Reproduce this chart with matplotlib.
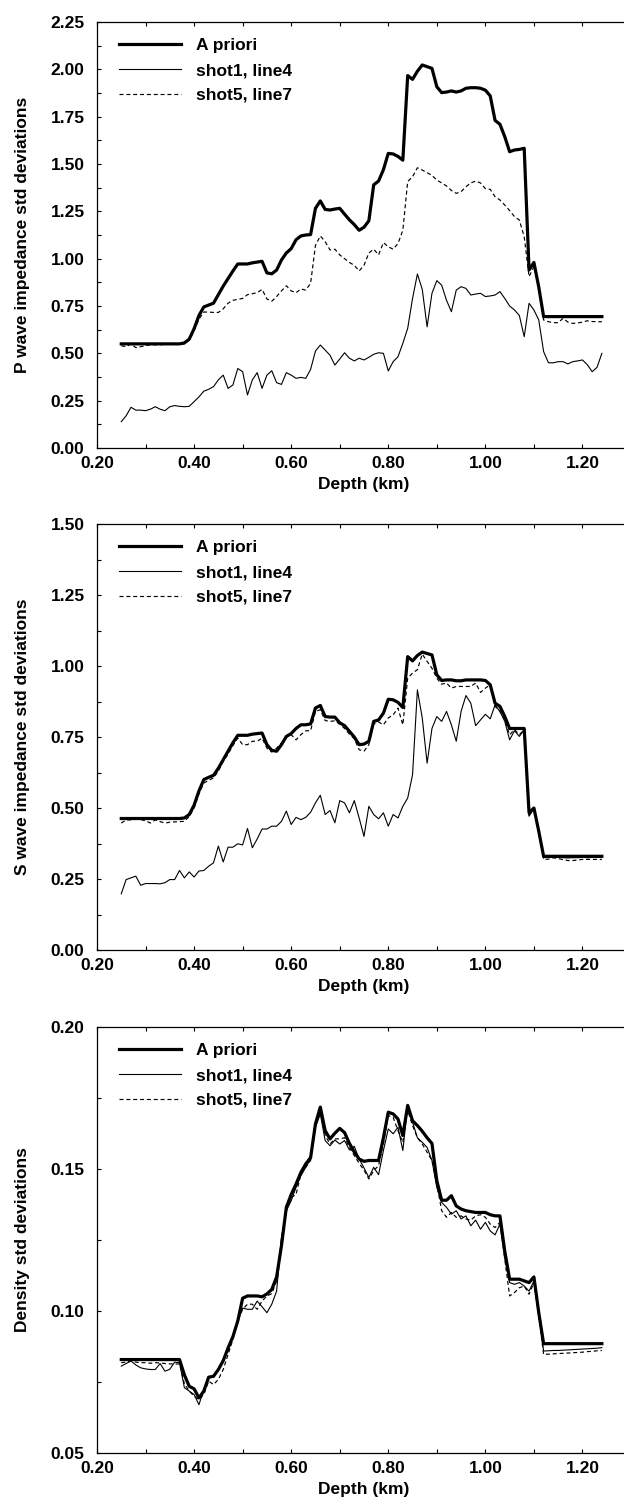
import numpy as np
import matplotlib
matplotlib.use("Agg")
import matplotlib.pyplot as plt
from matplotlib.ticker import MultipleLocator, FormatStrFormatter

plt.rcParams['font.family'] = ['Liberation Sans', 'DejaVu Sans']
plt.rcParams['font.weight'] = 'bold'

# Depth samples (km)
depth = np.round(np.arange(25, 125) / 100.0, 2)

series_labels = ["A priori", "shot1, line4", "shot5, line7"]

# P wave impedance standard deviations
p_apriori = [0.55] * 13 + [
    0.555, 0.575, 0.63, 0.70, 0.745, 0.755, 0.765, 0.81, 0.855, 0.895,
    0.935, 0.972, 0.972, 0.972, 0.978, 0.982, 0.986, 0.925, 0.92, 0.94,
    0.993, 1.03, 1.053, 1.10, 1.12, 1.125, 1.127, 1.266, 1.305, 1.26,
    1.257, 1.262, 1.266, 1.235, 1.205, 1.18, 1.15, 1.166, 1.20, 1.39,
    1.41, 1.47, 1.556, 1.553, 1.54, 1.52, 1.967, 1.947, 1.99, 2.023,
    2.014, 2.005, 1.908, 1.877, 1.88, 1.886, 1.88, 1.886, 1.90, 1.903,
    1.903, 1.90, 1.89, 1.86, 1.73, 1.71, 1.644, 1.565, 1.574, 1.577,
    1.583, 0.94, 0.98, 0.85, 0.694] + [0.694] * 12
p_shot1 = [
    0.139, 0.17, 0.215, 0.20, 0.20, 0.197, 0.205, 0.218, 0.205, 0.197,
    0.218, 0.224, 0.22, 0.218, 0.22, 0.245, 0.27, 0.30, 0.31, 0.324,
    0.36, 0.385, 0.315, 0.333, 0.42, 0.403, 0.28, 0.36, 0.398, 0.315,
    0.385, 0.408, 0.345, 0.336, 0.398, 0.385, 0.368, 0.373, 0.368, 0.415,
    0.512, 0.544, 0.517, 0.49, 0.438, 0.47, 0.503, 0.474, 0.46, 0.474,
    0.465, 0.479, 0.495, 0.503, 0.50, 0.407, 0.456, 0.482, 0.553, 0.632,
    0.79, 0.919, 0.838, 0.64, 0.817, 0.884, 0.86, 0.78, 0.72, 0.834,
    0.852, 0.843, 0.808, 0.813, 0.817, 0.80, 0.803, 0.808, 0.826, 0.79,
    0.75, 0.729, 0.70, 0.588, 0.764, 0.729, 0.676, 0.509, 0.45, 0.45,
    0.456, 0.456, 0.444, 0.456, 0.46, 0.465, 0.44, 0.403, 0.426, 0.50]
p_shot5 = [
    0.54, 0.535, 0.55, 0.53, 0.535, 0.54, 0.545, 0.545, 0.545, 0.548,
    0.548, 0.548, 0.548, 0.55, 0.57, 0.62, 0.68, 0.718, 0.718, 0.716,
    0.716, 0.735, 0.765, 0.78, 0.785, 0.79, 0.81, 0.815, 0.82, 0.838,
    0.787, 0.775, 0.80, 0.83, 0.857, 0.83, 0.82, 0.84, 0.834, 0.87,
    1.07, 1.12, 1.09, 1.046, 1.05, 1.02, 1.00, 0.98, 0.965, 0.935,
    0.965, 1.03, 1.05, 1.02, 1.085, 1.063, 1.05, 1.08, 1.15, 1.407,
    1.433, 1.48, 1.468, 1.454, 1.44, 1.415, 1.40, 1.384, 1.36, 1.345,
    1.354, 1.38, 1.40, 1.41, 1.40, 1.37, 1.366, 1.327, 1.31, 1.283,
    1.254, 1.222, 1.204, 1.116, 0.905, 0.958, 0.852, 0.676, 0.667, 0.662,
    0.662, 0.685, 0.665, 0.658, 0.66, 0.665, 0.672, 0.668, 0.667, 0.667]

# S wave impedance standard deviations
s_apriori = [0.463] * 13 + [
    0.465, 0.477, 0.51, 0.56, 0.60, 0.608, 0.615, 0.64, 0.67, 0.70,
    0.73, 0.756, 0.756, 0.756, 0.76, 0.762, 0.764, 0.723, 0.703, 0.70,
    0.723, 0.752, 0.762, 0.78, 0.793, 0.793, 0.796, 0.852, 0.861, 0.822,
    0.82, 0.82, 0.80, 0.79, 0.77, 0.75, 0.723, 0.725, 0.735, 0.805,
    0.81, 0.834, 0.883, 0.881, 0.872, 0.854, 1.033, 1.018, 1.037, 1.049,
    1.044, 1.039, 0.969, 0.949, 0.951, 0.951, 0.948, 0.948, 0.951, 0.951,
    0.951, 0.951, 0.949, 0.934, 0.869, 0.858, 0.822, 0.78, 0.78, 0.78,
    0.78, 0.483, 0.50, 0.418, 0.33] + [0.33] * 12
s_shot1 = [
    0.198, 0.248, 0.254, 0.26, 0.228, 0.234, 0.234, 0.234, 0.233, 0.237,
    0.248, 0.248, 0.28, 0.254, 0.275, 0.257, 0.278, 0.28, 0.295, 0.307,
    0.366, 0.31, 0.362, 0.362, 0.374, 0.37, 0.428, 0.36, 0.391, 0.426,
    0.426, 0.436, 0.436, 0.453, 0.489, 0.442, 0.467, 0.459, 0.467, 0.485,
    0.518, 0.545, 0.477, 0.491, 0.448, 0.526, 0.518, 0.483, 0.526, 0.465,
    0.40, 0.506, 0.477, 0.462, 0.483, 0.436, 0.477, 0.465, 0.506, 0.535,
    0.617, 0.916, 0.817, 0.658, 0.78, 0.822, 0.805, 0.84, 0.793, 0.735,
    0.84, 0.896, 0.869, 0.79, 0.81, 0.83, 0.814, 0.863, 0.84, 0.805,
    0.74, 0.772, 0.752, 0.776, 0.471, 0.50, 0.418, 0.325, 0.327, 0.325,
    0.326, 0.325, 0.324, 0.325, 0.325, 0.326, 0.325, 0.326, 0.327, 0.327]
s_shot5 = [
    0.447, 0.458, 0.458, 0.46, 0.459, 0.455, 0.447, 0.458, 0.452, 0.447,
    0.45, 0.451, 0.452, 0.453, 0.47, 0.50, 0.55, 0.588, 0.597, 0.606,
    0.63, 0.664, 0.69, 0.72, 0.746, 0.723, 0.723, 0.735, 0.735, 0.746,
    0.711, 0.697, 0.711, 0.729, 0.749, 0.758, 0.74, 0.758, 0.772, 0.772,
    0.84, 0.846, 0.808, 0.805, 0.807, 0.795, 0.78, 0.76, 0.744, 0.705,
    0.70, 0.723, 0.796, 0.803, 0.793, 0.817, 0.828, 0.852, 0.793, 0.957,
    0.975, 0.987, 1.042, 1.016, 0.992, 0.957, 0.936, 0.94, 0.922, 0.928,
    0.928, 0.928, 0.928, 0.94, 0.907, 0.922, 0.934, 0.858, 0.84, 0.81,
    0.758, 0.776, 0.758, 0.776, 0.471, 0.50, 0.412, 0.319, 0.32, 0.325,
    0.322, 0.318, 0.315, 0.315, 0.317, 0.319, 0.319, 0.319, 0.319, 0.319]

# Density standard deviations
d_apriori = [0.0829] * 13 + [
    0.0775, 0.0735, 0.0726, 0.0694, 0.0718, 0.0767, 0.077, 0.0794, 0.0825, 0.087,
    0.091, 0.0965, 0.1045, 0.1053, 0.1053, 0.1053, 0.105, 0.106, 0.1076, 0.112,
    0.123, 0.1365, 0.141, 0.1447, 0.1488, 0.1518, 0.154, 0.1659, 0.1718, 0.1635,
    0.1606, 0.1626, 0.1643, 0.1628, 0.159, 0.156, 0.1535, 0.1527, 0.153, 0.153,
    0.153, 0.161, 0.170, 0.1694, 0.1676, 0.1618, 0.1724, 0.167, 0.1653, 0.1633,
    0.161, 0.159, 0.1459, 0.139, 0.139, 0.1406, 0.137, 0.1359, 0.1353, 0.135,
    0.1347, 0.1347, 0.1347, 0.1339, 0.1335, 0.1335, 0.121, 0.1112, 0.1112, 0.1112,
    0.1106, 0.110, 0.112, 0.0994, 0.0885] + [0.0885] * 12
d_shot1 = [
    0.0806, 0.0815, 0.0824, 0.081, 0.080, 0.0796, 0.0794, 0.0794, 0.0815, 0.0788,
    0.0795, 0.082, 0.0818, 0.073, 0.0718, 0.0706, 0.067, 0.0724, 0.0765, 0.077,
    0.0794, 0.0829, 0.0859, 0.091, 0.0965, 0.101, 0.1006, 0.1006, 0.1035, 0.1015,
    0.0994, 0.1024, 0.107, 0.126, 0.1353, 0.1388, 0.1435, 0.1476, 0.1506, 0.1535,
    0.1647, 0.1694, 0.160, 0.1582, 0.1602, 0.1588, 0.160, 0.1567, 0.158, 0.1535,
    0.1504, 0.147, 0.1506, 0.148, 0.1565, 0.1641, 0.1624, 0.1647, 0.1565, 0.1724,
    0.1665, 0.161, 0.1594, 0.1576, 0.153, 0.1435, 0.1382, 0.1365, 0.1341, 0.1353,
    0.1324, 0.1335, 0.130, 0.132, 0.1288, 0.1312, 0.1282, 0.1268, 0.1306, 0.1188,
    0.110, 0.1094, 0.110, 0.1088, 0.107, 0.1106, 0.0988, 0.0859, 0.0860, 0.0861,
    0.0861, 0.0862, 0.0863, 0.0864, 0.0865, 0.0866, 0.0867, 0.0868, 0.0869, 0.0871]
d_shot5 = [
    0.0818, 0.0820, 0.0824, 0.0820, 0.0818, 0.0818, 0.0816, 0.0818, 0.0817, 0.0815,
    0.0814, 0.0813, 0.0814, 0.0744, 0.0718, 0.0700, 0.0688, 0.0706, 0.0753, 0.0741,
    0.0759, 0.0794, 0.0847, 0.090, 0.0965, 0.1006, 0.1024, 0.1024, 0.1006, 0.1035,
    0.1053, 0.1061, 0.1106, 0.1247, 0.1353, 0.140, 0.141, 0.1482, 0.1506, 0.153,
    0.1653, 0.1706, 0.1618, 0.1588, 0.1606, 0.1606, 0.161, 0.1576, 0.1547, 0.152,
    0.1496, 0.1465, 0.1494, 0.1512, 0.1588, 0.1688, 0.1682, 0.1635, 0.1594, 0.1706,
    0.1653, 0.161, 0.1588, 0.1559, 0.153, 0.1447, 0.1353, 0.133, 0.1347, 0.133,
    0.1335, 0.1324, 0.132, 0.1335, 0.1339, 0.133, 0.1306, 0.1294, 0.1312, 0.1182,
    0.1053, 0.1065, 0.1082, 0.1088, 0.1059, 0.110, 0.0982, 0.0847, 0.0848, 0.0849,
    0.0850, 0.0851, 0.0852, 0.0853, 0.0854, 0.0855, 0.0857, 0.0858, 0.0860, 0.0861]

panels = [
    dict(series=(p_apriori, p_shot1, p_shot5), ylim=(0.0, 2.25), major=0.25,
         minor=0.125, ylabel="P wave impedance std deviations"),
    dict(series=(s_apriori, s_shot1, s_shot5), ylim=(0.0, 1.5), major=0.25,
         minor=0.125, ylabel="S wave impedance std deviations"),
    dict(series=(d_apriori, d_shot1, d_shot5), ylim=(0.05, 0.20), major=0.05,
         minor=0.025, ylabel="Density std deviations"),
]

W, H = 624, 1508
fig = plt.figure(figsize=(W / 100, H / 100), dpi=100)

tops = [22, 524, 1027]
ax_h = 426
left, ax_w = 97, 534

styles = [
    dict(color="black", lw=2.3, ls="-"),
    dict(color="black", lw=0.8, ls="-"),
    dict(color="black", lw=0.85, ls=(0, (3.4, 2.4))),
]

fs = 12.5
for top, cfg in zip(tops, panels):
    ax = fig.add_axes([left / W, (H - top - ax_h) / H, ax_w / W, ax_h / H])
    for vals, lab, st in zip(cfg["series"], series_labels, styles):
        ax.plot(depth, vals, label=lab, **st)
    ax.set_xlim(0.2, 1.3)
    ax.set_ylim(*cfg["ylim"])
    ax.xaxis.set_major_locator(MultipleLocator(0.2))
    ax.xaxis.set_minor_locator(MultipleLocator(0.1))
    ax.yaxis.set_major_locator(MultipleLocator(cfg["major"]))
    ax.yaxis.set_minor_locator(MultipleLocator(cfg["minor"]))
    ax.xaxis.set_major_formatter(FormatStrFormatter("%.2f"))
    ax.yaxis.set_major_formatter(FormatStrFormatter("%.2f"))
    ax.tick_params(which="both", direction="in", top=True, right=True,
                   length=3.2, width=0.8, labelsize=fs)
    ax.tick_params(axis="x", which="major", pad=6)
    ax.tick_params(axis="y", which="major", pad=9)
    for lbl in ax.get_xticklabels() + ax.get_yticklabels():
        lbl.set_fontweight("bold")
    for sp in ax.spines.values():
        sp.set_linewidth(0.9)
    ax.set_xlabel("Depth (km)", fontsize=fs, fontweight="bold", labelpad=4)
    ax.set_ylabel(cfg["ylabel"], fontsize=fs, fontweight="bold", labelpad=15)
    ax.legend(loc="upper left", bbox_to_anchor=(0.041, 0.962),
              frameon=False, handlelength=3.6, handletextpad=0.85,
              labelspacing=0.55, borderpad=0, borderaxespad=0,
              prop=dict(weight="bold", size=fs))

fig.savefig("out.png", dpi=100)
